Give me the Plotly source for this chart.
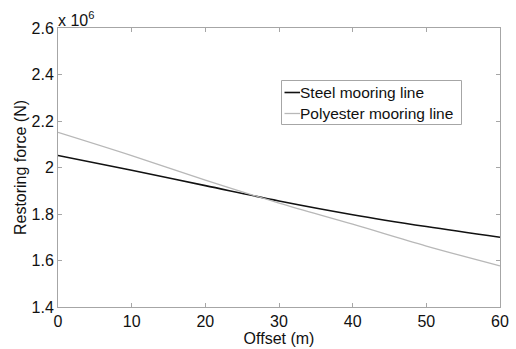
import plotly.graph_objects as go

# Offset (m) and restoring force (N) for the two mooring line types
offset = [0, 10, 20, 30, 40, 50, 60]
steel_force = [2.052e6, 1.988e6, 1.922e6, 1.856e6, 1.797e6, 1.746e6, 1.700e6]
polyester_force = [2.151e6, 2.051e6, 1.946e6, 1.847e6, 1.756e6, 1.662e6, 1.577e6]
series_names = ["Steel mooring line", "Polyester mooring line"]

y_tickvals = [1.4e6, 1.6e6, 1.8e6, 2.0e6, 2.2e6, 2.4e6, 2.6e6]
y_ticktext = ["1.4", "1.6", "1.8", "2", "2.2", "2.4", "2.6"]
x_tickvals = [0, 10, 20, 30, 40, 50, 60]

font_family = "Liberation Sans, Arial, sans-serif"
text_color = "#111111"
axis_color = "#a6a6a6"
line_colors = ["#111111", "#b8b8b8"]
line_widths = [1.6, 1.3]
fs = 16

fig = go.Figure()
for name, ys, color, width in zip(series_names, [steel_force, polyester_force], line_colors, line_widths):
    fig.add_trace(go.Scatter(x=offset, y=ys, mode="lines", name=name,
                             line=dict(color=color, width=width, shape="spline"),
                             showlegend=False))

axis_common = dict(showline=True, linecolor=axis_color, linewidth=1, mirror="ticks",
                   ticks="inside", ticklen=4, tickcolor=axis_color, showgrid=False,
                   zeroline=False, automargin=False,
                   tickfont=dict(size=fs, color=text_color, family=font_family))

fig.update_xaxes(range=[0, 60], tickvals=x_tickvals,
                 title=dict(text="Offset (m)", font=dict(size=fs, color=text_color, family=font_family),
                            standoff=0),
                 **axis_common)
fig.update_yaxes(range=[1.4e6, 2.6e6], tickvals=y_tickvals, ticktext=y_ticktext,
                 title=dict(text="Restoring force (N)", font=dict(size=fs, color=text_color, family=font_family),
                            standoff=0),
                 **axis_common)

# exponent label above the y axis
fig.add_annotation(xref="paper", yref="paper", x=0, y=1, xanchor="left", yanchor="bottom",
                   text="x 10<sup>6</sup>", showarrow=False,
                   font=dict(size=fs, color=text_color, family=font_family), yshift=-3, xshift=-2)

# boxed legend: short line sample followed by the series name
W, H = 516 - 58 - 16, 349 - 28 - 42
def px(x):
    return (x - 58) / W
def py(y):
    return (349 - 42 - y) / H

fig.add_shape(type="rect", xref="paper", yref="paper",
              x0=px(281.5), x1=px(461.5), y0=py(124.5), y1=py(80.5),
              line=dict(color=axis_color, width=1), fillcolor="white", layer="above")
for i, (name, color, width) in enumerate(zip(series_names, line_colors, line_widths)):
    row_y = 92.5 + 21 * i
    fig.add_shape(type="line", xref="paper", yref="paper",
                  x0=px(284.5), x1=px(300), y0=py(row_y), y1=py(row_y),
                  line=dict(color=color, width=width), layer="above")
    fig.add_annotation(xref="paper", yref="paper", x=px(300), y=py(row_y),
                       xanchor="left", yanchor="middle", text=name, showarrow=False,
                       borderpad=0, borderwidth=0,
                       font=dict(size=15.5, color=text_color, family=font_family))

fig.update_layout(
    width=516, height=349,
    margin=dict(l=58, r=16, t=28, b=42),
    paper_bgcolor="white", plot_bgcolor="white",
    font=dict(family=font_family, size=fs, color=text_color),
    showlegend=False,
)

fig.write_html("out.html")
